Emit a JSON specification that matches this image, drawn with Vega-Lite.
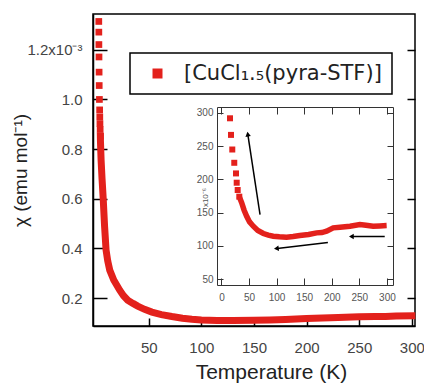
{
  "$schema": "https://vega.github.io/schema/vega-lite/v6.json",
  "width": 322,
  "height": 312,
  "autosize": {"type": "none"},
  "padding": {"left": 93, "top": 14, "right": 9, "bottom": 61},
  "background": "white",
  "view": {"stroke": "black", "strokeWidth": 1.5},
  "config": {
    "font": "Liberation Sans",
    "axis": {"grid": false, "domainColor": "black", "domainWidth": 1.5, "tickColor": "black", "tickWidth": 1.5, "labelColor": "#444", "titleColor": "#222", "titleFontWeight": "normal", "labelFont": "Liberation Sans", "titleFont": "Liberation Sans"},
    "legend": {"labelFont": "DejaVu Sans", "strokeWidth": 1.5}
  },
  "datasets": {
    "main_pts": [
      {"T": 2.5, "chi": 1.314, "series": "[CuCl₁.₅(pyra-STF)]"},
      {"T": 2.55, "chi": 1.271, "series": "[CuCl₁.₅(pyra-STF)]"},
      {"T": 2.6, "chi": 1.221, "series": "[CuCl₁.₅(pyra-STF)]"},
      {"T": 2.7, "chi": 1.171, "series": "[CuCl₁.₅(pyra-STF)]"},
      {"T": 2.8, "chi": 1.110, "series": "[CuCl₁.₅(pyra-STF)]"},
      {"T": 2.9, "chi": 1.056, "series": "[CuCl₁.₅(pyra-STF)]"},
      {"T": 3.1, "chi": 1.000, "series": "[CuCl₁.₅(pyra-STF)]"},
      {"T": 3.3, "chi": 0.958, "series": "[CuCl₁.₅(pyra-STF)]"},
      {"T": 3.45, "chi": 0.930, "series": "[CuCl₁.₅(pyra-STF)]"},
      {"T": 3.6, "chi": 0.903, "series": "[CuCl₁.₅(pyra-STF)]"},
      {"T": 3.8, "chi": 0.879, "series": "[CuCl₁.₅(pyra-STF)]"},
      {"T": 4.0, "chi": 0.852, "series": "[CuCl₁.₅(pyra-STF)]"}
    ],
    "main_line": [
      {"T": 4.0, "chi": 0.852}, {"T": 4.1, "chi": 0.83}, {"T": 4.7, "chi": 0.756}, {"T": 5.6, "chi": 0.68},
      {"T": 6.7, "chi": 0.60}, {"T": 8.0, "chi": 0.49}, {"T": 9.4, "chi": 0.394}, {"T": 11.0, "chi": 0.35},
      {"T": 12.9, "chi": 0.313}, {"T": 16.7, "chi": 0.273}, {"T": 22.4, "chi": 0.232}, {"T": 26, "chi": 0.21},
      {"T": 30, "chi": 0.192}, {"T": 35, "chi": 0.179}, {"T": 39.5, "chi": 0.168}, {"T": 46, "chi": 0.155},
      {"T": 53, "chi": 0.144}, {"T": 62, "chi": 0.134}, {"T": 72, "chi": 0.126}, {"T": 82, "chi": 0.119},
      {"T": 91, "chi": 0.115}, {"T": 100, "chi": 0.112}, {"T": 115, "chi": 0.110}, {"T": 130, "chi": 0.110},
      {"T": 150, "chi": 0.111}, {"T": 165, "chi": 0.112}, {"T": 180, "chi": 0.114}, {"T": 200, "chi": 0.118},
      {"T": 215, "chi": 0.120}, {"T": 230, "chi": 0.122}, {"T": 250, "chi": 0.125}, {"T": 265, "chi": 0.126},
      {"T": 275, "chi": 0.126}, {"T": 285, "chi": 0.128}, {"T": 300, "chi": 0.129}
    ],
    "inset_pts": [
      {"T": 15.6, "chi": 292}, {"T": 17.4, "chi": 267}, {"T": 19.7, "chi": 245}, {"T": 23.3, "chi": 225},
      {"T": 26.4, "chi": 209}, {"T": 27.7, "chi": 195}, {"T": 29.5, "chi": 184}, {"T": 32.4, "chi": 174}
    ],
    "inset_line": [
      {"T": 32.4, "chi": 174}, {"T": 36.7, "chi": 165}, {"T": 41, "chi": 154}, {"T": 45.8, "chi": 144.5},
      {"T": 51, "chi": 136}, {"T": 57.8, "chi": 129.5}, {"T": 66, "chi": 123}, {"T": 76, "chi": 118.5},
      {"T": 85, "chi": 116}, {"T": 94, "chi": 114.5}, {"T": 105, "chi": 113.5}, {"T": 118, "chi": 113},
      {"T": 130, "chi": 114}, {"T": 142, "chi": 115.5}, {"T": 158, "chi": 117}, {"T": 172.6, "chi": 119.5},
      {"T": 182, "chi": 120}, {"T": 190.7, "chi": 122}, {"T": 202.7, "chi": 127}, {"T": 215, "chi": 128},
      {"T": 233, "chi": 129.5}, {"T": 251, "chi": 132}, {"T": 262, "chi": 131}, {"T": 275, "chi": 129.5},
      {"T": 287, "chi": 130}, {"T": 299.5, "chi": 130.5}
    ],
    "arrows": [
      {"id": "a", "x": 70, "y": 147, "x2": 48, "y2": 267},
      {"id": "b", "x": 193, "y": 105, "x2": 101, "y2": 96},
      {"id": "c", "x": 296, "y": 114, "x2": 237, "y2": 114}
    ]
  },
  "layer": [
    {
      "data": {"name": "main_pts"},
      "mark": {"type": "point", "shape": "square", "filled": true, "opacity": 1, "size": 45},
      "encoding": {
        "x": {"field": "T", "type": "quantitative", "scale": {"domain": [-3, 303], "nice": false, "zero": false},
          "axis": {"orient": "bottom", "values": [50, 100, 150, 200, 250, 300], "tickSize": -8, "labelPadding": 22, "labelFontSize": 15, "title": "Temperature (K)", "titleFontSize": 21, "titleX": 178, "titleY": 46, "titleBaseline": "middle"}},
        "y": {"field": "chi", "type": "quantitative", "scale": {"domain": [0.088, 1.344], "nice": false, "zero": false},
          "axis": {"orient": "left", "values": [0.2, 0.4, 0.6, 0.8, 1.0, 1.2], "tickSize": -14, "labelPadding": 25, "labelFontSize": 15,
            "labelExpr": "datum.value > 1.1 ? '1.2x10⁻³' : format(datum.value, '.1f')",
            "title": "χ (emu mol⁻¹)", "titleFontSize": 19, "titleX": -73, "titleBaseline": "middle"}},
        "color": {"field": "series", "type": "nominal", "scale": {"range": ["#e3211c"]},
          "legend": {"title": null, "orient": "none", "legendX": 37, "legendY": 39, "symbolType": "square", "symbolSize": 100,
            "labelFontSize": 21, "labelColor": "#222", "labelOffset": 16, "labelLimit": 400, "symbolOffset": 7, "padding": 10,
            "strokeColor": "black", "fillColor": "white", "cornerRadius": 0, "symbolStrokeWidth": 0}}
      }
    },
    {
      "data": {"name": "main_line"},
      "mark": {"type": "line", "color": "#e3211c", "strokeWidth": 7, "strokeCap": "square"},
      "encoding": {
        "x": {"field": "T", "type": "quantitative", "scale": {"domain": [-3, 303], "nice": false, "zero": false}, "axis": null},
        "y": {"field": "chi", "type": "quantitative", "scale": {"domain": [0.088, 1.344], "nice": false, "zero": false},
          "axis": {"orient": "right", "values": [0.2, 0.4, 0.6, 0.8, 1.0, 1.2], "tickSize": -8, "labels": false, "title": null, "domain": false}}
      }
    },
    {
      "data": {"name": "inset_pts"},
      "mark": {"type": "point", "shape": "square", "filled": true, "opacity": 1, "size": 36, "color": "#e3211c"},
      "encoding": {
        "x": {"field": "T", "type": "quantitative", "scale": {"domain": [-8, 311], "range": [124, 300], "nice": false, "zero": false},
          "axis": {"orient": "bottom", "offset": -41, "values": [0, 50, 100, 150, 200, 250, 300], "tickSize": -7, "tickWidth": 1, "domainWidth": 1, "domainColor": "#333", "tickColor": "#333", "labelPadding": 14, "labelFontSize": 10, "labelColor": "#555", "title": null}},
        "y": {"field": "chi", "type": "quantitative", "scale": {"domain": [41, 309], "range": [271, 93], "nice": false, "zero": false},
          "axis": {"orient": "left", "offset": -124, "values": [50, 100, 150, 200, 250, 300], "tickSize": -6, "tickWidth": 1, "domainWidth": 1, "domainColor": "#333", "tickColor": "#333", "labelPadding": 10, "labelFontSize": 10, "labelColor": "#555", "title": "x10⁻⁶", "titleFontSize": 8, "titleColor": "#555", "titleX": -12, "titleY": 183, "titleBaseline": "middle"}}
      }
    },
    {
      "data": {"name": "inset_line"},
      "mark": {"type": "line", "color": "#e3211c", "strokeWidth": 5.5},
      "encoding": {
        "x": {"field": "T", "type": "quantitative", "scale": {"domain": [-8, 311], "range": [124, 300], "nice": false, "zero": false},
          "axis": {"orient": "top", "offset": -93, "values": [0, 50, 100, 150, 200, 250, 300], "tickSize": -7, "tickWidth": 1, "domainWidth": 1, "domainColor": "#333", "tickColor": "#333", "labels": false, "title": null}},
        "y": {"field": "chi", "type": "quantitative", "scale": {"domain": [41, 309], "range": [271, 93], "nice": false, "zero": false},
          "axis": {"orient": "right", "offset": -22, "values": [50, 100, 150, 200, 250, 300], "tickSize": -6, "tickWidth": 1, "domainWidth": 1, "domainColor": "#333", "tickColor": "#333", "labels": false, "title": null}}
      }
    },
    {
      "data": {"name": "arrows"},
      "mark": {"type": "rule", "color": "black", "strokeWidth": 1.5},
      "encoding": {
        "x": {"field": "x", "type": "quantitative", "scale": {"domain": [-8, 311], "range": [124, 300], "nice": false, "zero": false}, "axis": null},
        "y": {"field": "y", "type": "quantitative", "scale": {"domain": [41, 309], "range": [271, 93], "nice": false, "zero": false}, "axis": null},
        "x2": {"field": "x2"},
        "y2": {"field": "y2"}
      }
    },
    {
      "data": {"name": "arrows"},
      "transform": [{"filter": "datum.id == 'a'"}],
      "mark": {"type": "point", "shape": "triangle", "filled": true, "opacity": 1, "color": "black", "size": 30, "angle": 351},
      "encoding": {
        "x": {"field": "x2", "type": "quantitative", "scale": {"domain": [-8, 311], "range": [124, 300], "nice": false, "zero": false}, "axis": null},
        "y": {"field": "y2", "type": "quantitative", "scale": {"domain": [41, 309], "range": [271, 93], "nice": false, "zero": false}, "axis": null}
      }
    },
    {
      "data": {"name": "arrows"},
      "transform": [{"filter": "datum.id == 'b'"}],
      "mark": {"type": "point", "shape": "triangle", "filled": true, "opacity": 1, "color": "black", "size": 30, "angle": 263},
      "encoding": {
        "x": {"field": "x2", "type": "quantitative", "scale": {"domain": [-8, 311], "range": [124, 300], "nice": false, "zero": false}, "axis": null},
        "y": {"field": "y2", "type": "quantitative", "scale": {"domain": [41, 309], "range": [271, 93], "nice": false, "zero": false}, "axis": null}
      }
    },
    {
      "data": {"name": "arrows"},
      "transform": [{"filter": "datum.id == 'c'"}],
      "mark": {"type": "point", "shape": "triangle", "filled": true, "opacity": 1, "color": "black", "size": 30, "angle": 270},
      "encoding": {
        "x": {"field": "x2", "type": "quantitative", "scale": {"domain": [-8, 311], "range": [124, 300], "nice": false, "zero": false}, "axis": null},
        "y": {"field": "y2", "type": "quantitative", "scale": {"domain": [41, 309], "range": [271, 93], "nice": false, "zero": false}, "axis": null}
      }
    }
  ],
  "resolve": {"scale": {"x": "independent", "y": "independent"}, "axis": {"x": "independent", "y": "independent"}}
}
